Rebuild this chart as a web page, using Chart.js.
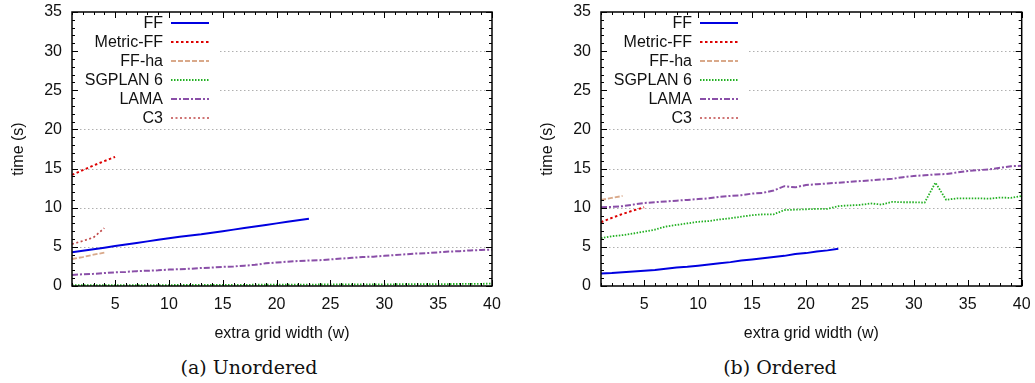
<!DOCTYPE html>
<html>
<head>
<meta charset="utf-8">
<script src="https://cdn.jsdelivr.net/npm/chart.js@4.4.1/dist/chart.umd.min.js"></script>
<style>
  html, body { margin: 0; padding: 0; background: #fff; overflow: hidden; }
  body { width: 1035px; height: 383px; position: relative; }
  canvas { position: absolute; top: 0; }
  .cap { position: absolute; top: 356px; font-family: "DejaVu Serif", serif; font-size: 19px; color: #111; transform: translateX(-50%); white-space: nowrap; }
</style>
</head>
<body>
<canvas id="left" width="520" height="350" style="left:0px"></canvas>
<canvas id="right" width="506" height="350" style="left:529px"></canvas>
<div class="cap" style="left:249px">(a) Unordered</div>
<div class="cap" style="left:780px">(b) Ordered</div>
<script>
// ---- data ----
const widths = [1,2,3,4,5,6,7,8,9,10,11,12,13,14,15,16,17,18,19,20,21,22,23,24,25,26,27,28,29,30,31,32,33,34,35,36,37,38,39,40];
const xTickLabels = [5,10,15,20,25,30,35,40];
const yTickLabels = [0,5,10,15,20,25,30,35];
const seriesNames = ["FF","Metric-FF","FF-ha","SGPLAN 6","LAMA","C3"];

// (a) Unordered
const ffUnordered = [4.3,4.5,4.7,4.9,5.1,5.3,5.5,5.7,5.9,6.1,6.3,6.45,6.6,6.8,7.0,7.2,7.4,7.6,7.8,8.0,8.2,8.4,8.6];
const metricFFUnordered = [14.2,14.8,15.4,15.95,16.5];
const ffhaUnordered = [3.45,3.7,4.0,4.25];
const sgplanUnordered = [0.1,0.1,0.1,0.1,0.1,0.1,0.12,0.12,0.12,0.12,0.13,0.13,0.14,0.14,0.15,0.15,0.15,0.16,0.16,0.17,0.17,0.18,0.18,0.19,0.19,0.2,0.2,0.21,0.21,0.22,0.22,0.23,0.24,0.24,0.25,0.25,0.26,0.27,0.28,0.3];
const lamaUnordered = [1.4,1.5,1.55,1.65,1.75,1.8,1.9,1.95,2.0,2.1,2.15,2.2,2.3,2.35,2.45,2.5,2.6,2.7,2.9,3.0,3.1,3.2,3.25,3.3,3.4,3.5,3.6,3.7,3.75,3.85,3.95,4.05,4.15,4.2,4.3,4.4,4.45,4.55,4.6,4.65];
const c3Unordered = [5.35,5.75,6.2,7.4];

// (b) Ordered
const ffOrdered = [1.6,1.65,1.75,1.85,1.95,2.05,2.2,2.35,2.45,2.6,2.75,2.9,3.05,3.25,3.4,3.55,3.7,3.85,4.1,4.2,4.4,4.55,4.75];
const metricFFOrdered = [8.15,8.7,9.2,9.65,10.05];
const ffhaOrdered = [11.0,11.25,11.5];
const sgplanOrdered = [6.1,6.35,6.5,6.7,6.95,7.2,7.6,7.8,8.0,8.2,8.3,8.5,8.65,8.85,9.05,9.15,9.15,9.7,9.75,9.8,9.85,9.85,10.2,10.3,10.35,10.55,10.4,10.75,10.7,10.7,10.65,13.2,11.0,11.2,11.2,11.2,11.15,11.3,11.25,11.5];
const lamaOrdered = [10.05,10.1,10.2,10.4,10.6,10.7,10.8,10.9,11.0,11.1,11.2,11.4,11.5,11.6,11.8,11.9,12.2,12.75,12.6,12.9,13.0,13.1,13.2,13.3,13.4,13.5,13.6,13.7,13.9,14.05,14.15,14.25,14.3,14.5,14.7,14.8,14.9,15.1,15.3,15.35];
const c3Ordered = [];

// ---- styles ----
const styles = [
  { color: '#0000e0', dash: [], width: 2 },
  { color: '#dd0000', dash: [2.5, 2.5], width: 2 },
  { color: '#d9a98a', dash: [5, 2], width: 1.8 },
  { color: '#22b022', dash: [1.5, 1.5], width: 1.8 },
  { color: '#8a4fa8', dash: [6, 2, 2, 2], width: 2 },
  { color: '#c04848', dash: [2, 2.5], width: 1.7 }
];

function toPoints(arr) { return arr.map((v, i) => ({ x: widths[i], y: v })); }

function makeDatasets(list) {
  return list.map((arr, i) => ({
    label: seriesNames[i],
    data: toPoints(arr),
    borderColor: styles[i].color,
    backgroundColor: styles[i].color,
    borderDash: styles[i].dash,
    borderWidth: styles[i].width,
    pointRadius: 0,
    tension: 0,
    fill: false
  }));
}

const FONT = "'Liberation Sans', Arial, sans-serif";

const framePlugin = {
  id: 'frame',
  beforeDatasetsDraw(chart) {
    const { ctx, chartArea: a, scales } = chart;
    ctx.save();
    // dotted horizontal grid lines
    ctx.strokeStyle = '#b0b0b0';
    ctx.lineWidth = 1;
    ctx.setLineDash([1.5, 2.5]);
    yTickLabels.forEach(v => {
      if (v === scales.y.min || v === scales.y.max) return;
      const py = Math.round(scales.y.getPixelForValue(v)) + 0.5;
      ctx.beginPath();
      ctx.moveTo(a.left, py);
      ctx.lineTo(a.right, py);
      ctx.stroke();
    });
    ctx.setLineDash([]);
    // legend background
    ctx.fillStyle = '#fff';
    ctx.fillRect(a.left + 1, a.top + 1, 145, 116);
    ctx.restore();
  },
  afterDatasetsDraw(chart) {
    const { ctx, chartArea: a, scales } = chart;
    ctx.save();
    // legend
    ctx.font = '16px ' + FONT;
    ctx.textAlign = 'right';
    ctx.textBaseline = 'middle';
    chart.data.datasets.forEach((ds, i) => {
      const y = a.top + 11 + i * 19;
      ctx.fillStyle = '#111';
      ctx.fillText(ds.label, a.left + 91, y + 1);
      ctx.beginPath();
      ctx.strokeStyle = ds.borderColor;
      ctx.lineWidth = ds.borderWidth;
      ctx.setLineDash(ds.borderDash);
      ctx.moveTo(a.left + 99, y);
      ctx.lineTo(a.left + 137, y);
      ctx.stroke();
    });
    ctx.setLineDash([]);
    // ticks
    ctx.strokeStyle = '#000';
    ctx.lineWidth = 1;
    const xs = scales.x, ys = scales.y;
    for (let v = Math.ceil(xs.min); v <= xs.max; v++) {
      const px = Math.round(xs.getPixelForValue(v)) + 0.5;
      const len = v % 5 === 0 ? 6 : 3;
      ctx.beginPath();
      ctx.moveTo(px, a.bottom); ctx.lineTo(px, a.bottom - len);
      ctx.moveTo(px, a.top); ctx.lineTo(px, a.top + len);
      ctx.stroke();
    }
    for (let v = ys.min; v <= ys.max; v++) {
      const py = Math.round(ys.getPixelForValue(v)) + 0.5;
      const len = v % 5 === 0 ? 6 : 3;
      ctx.beginPath();
      ctx.moveTo(a.left, py); ctx.lineTo(a.left + len, py);
      ctx.moveTo(a.right, py); ctx.lineTo(a.right - len, py);
      ctx.stroke();
    }
    // border
    ctx.lineWidth = 1.5;
    ctx.strokeRect(a.left, a.top, a.right - a.left, a.bottom - a.top);
    ctx.restore();
  }
};

function makeChart(id, list, rightPad) {
  return new Chart(document.getElementById(id), {
    type: 'line',
    data: { datasets: makeDatasets(list) },
    options: {
      responsive: false,
      animation: false,
      layout: { autoPadding: false, padding: { top: 12, right: rightPad, left: 0, bottom: 0 } },
      plugins: { legend: { display: false }, tooltip: { enabled: false } },
      scales: {
        x: {
          type: 'linear', min: 1, max: 40,
          afterBuildTicks: s => { s.ticks = xTickLabels.map(v => ({ value: v })); },
          afterFit: s => { s.height = 64; s.paddingLeft = 0; s.paddingRight = 0; s.paddingTop = 0; s.paddingBottom = 0; },
          grid: { display: false, drawTicks: false },
          border: { display: false },
          ticks: { padding: 9, color: '#111', font: { family: FONT, size: 16 }, maxRotation: 0, autoSkip: false },
          title: { display: true, text: 'extra grid width (w)', color: '#111', font: { family: FONT, size: 16 }, padding: { top: 0, bottom: 6.4 } }
        },
        y: {
          type: 'linear', min: 0, max: 35,
          afterBuildTicks: s => { s.ticks = yTickLabels.map(v => ({ value: v })); },
          afterFit: s => { s.width = 72; s.paddingLeft = 0; s.paddingRight = 0; s.paddingTop = 0; s.paddingBottom = 0; },
          grid: { display: false, drawTicks: false },
          border: { display: false },
          ticks: { padding: 10, color: '#111', font: { family: FONT, size: 16 }, autoSkip: false },
          title: { display: true, text: 'time (s)', color: '#111', font: { family: FONT, size: 16 }, padding: { top: 9.4, bottom: 0 } }
        }
      }
    },
    plugins: [framePlugin]
  });
}

makeChart('left', [ffUnordered, metricFFUnordered, ffhaUnordered, sgplanUnordered, lamaUnordered, c3Unordered], 28);
makeChart('right', [ffOrdered, metricFFOrdered, ffhaOrdered, sgplanOrdered, lamaOrdered, c3Ordered], 13.3);
</script>
</body>
</html>
